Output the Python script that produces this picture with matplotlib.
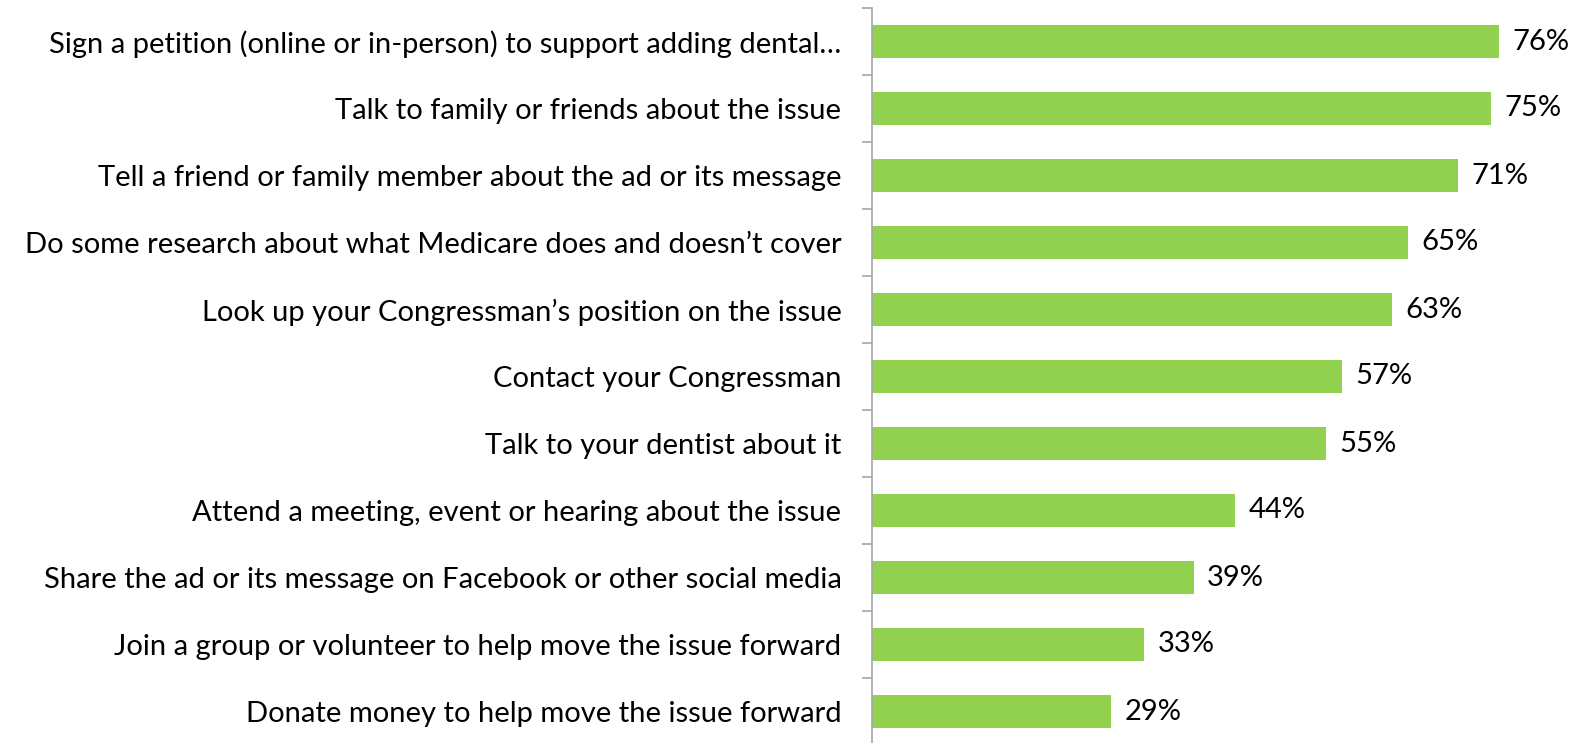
import numpy as np
import matplotlib.pyplot as plt

labels = [
    "Sign a petition (online or in-person) to support adding dental…",
    "Talk to family or friends about the issue",
    "Tell a friend or family member about the ad or its message",
    "Do some research about what Medicare does and doesn’t cover",
    "Look up your Congressman’s position on the issue",
    "Contact your Congressman",
    "Talk to your dentist about it",
    "Attend a meeting, event or hearing about the issue",
    "Share the ad or its message on Facebook or other social media",
    "Join a group or volunteer to help move the issue forward",
    "Donate money to help move the issue forward",
]
values = [76, 75, 71, 65, 63, 57, 55, 44, 39, 33, 29]

BAR_COLOR = "#92D050"
AXIS_COLOR = "#A6A6A6"

plt.rcParams["font.family"] = ["Lato", "DejaVu Sans"]

W, H = 1579, 743
fig = plt.figure(figsize=(W / 100, H / 100), dpi=100)
# axes placed so the category axis sits at x=872 px
ax_left = 872 / W
ax_top = 1 - 8 / H
ax_bottom = -2 / H
ax = fig.add_axes([ax_left, ax_bottom, 1 - ax_left, ax_top - ax_bottom])

n = len(labels)
y = np.arange(n)
ax.barh(y, values, height=0.5, color=BAR_COLOR)
ax.set_ylim(n - 0.5, -0.5)
ax.set_xlim(0, (W - 872) / 8.25)

for yi, v in zip(y, values):
    ax.text(v + 1.6, yi, f"{v}%", va="center", ha="left", fontsize=21, color="black")

ax.set_yticks(y)
ax.set_yticklabels(labels, fontsize=21)
ax.tick_params(axis="y", which="major", length=0, pad=22)
ax.set_yticks(np.arange(-0.5, n, 1.0), minor=True)
ax.tick_params(axis="y", which="minor", length=7, color=AXIS_COLOR, width=1.2)

ax.set_xticks([])
for side in ("top", "right", "bottom"):
    ax.spines[side].set_visible(False)
ax.spines["left"].set_color(AXIS_COLOR)
ax.spines["left"].set_linewidth(1.2)

fig.savefig("out.png", dpi=100)
